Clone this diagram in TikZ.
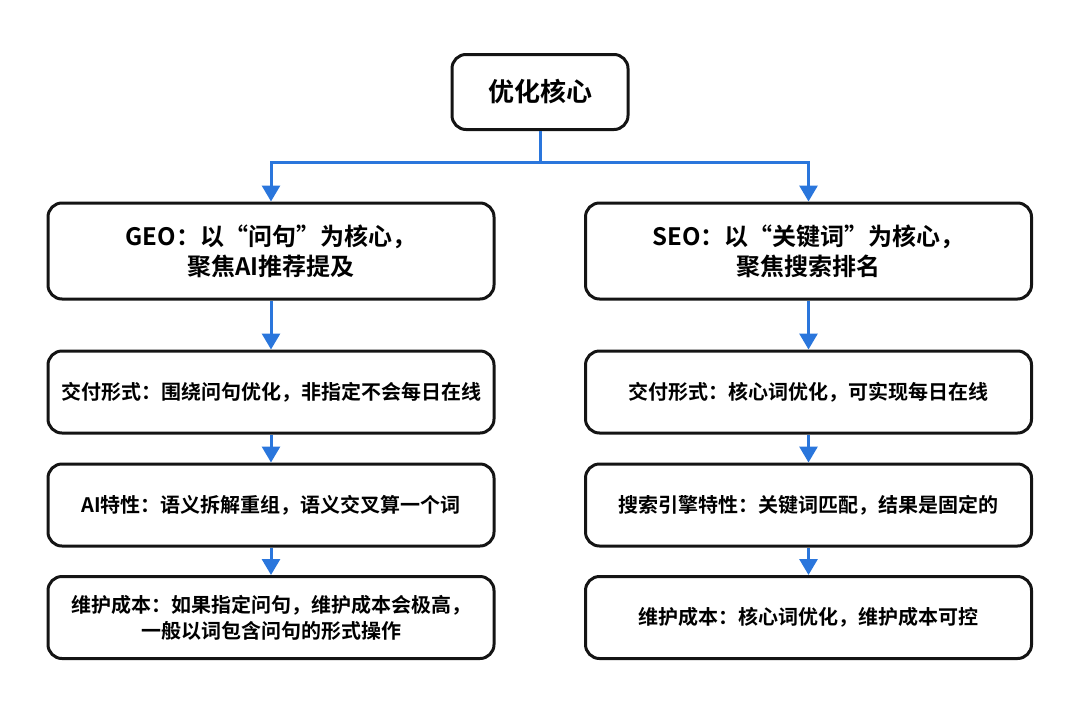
\documentclass[tikz,border=0pt]{standalone}
\usepackage{fontspec}
\setmainfont{Noto Sans CJK SC}[BoldFont={Noto Sans CJK SC Bold}]
\usetikzlibrary{arrows.meta}
\definecolor{linkblue}{RGB}{42,118,220}

\begin{document}
\begin{tikzpicture}[x=0.5pt,y=0.5pt,
  box/.style={draw=black!92,line width=1.5pt,rounded corners=7pt,fill=white,
    align=center,inner sep=0pt},
  head/.style={box,minimum width=223pt,minimum height=48pt,
    font=\bfseries\fontsize{12}{15}\selectfont},
  item/.style={box,minimum width=223pt,minimum height=41pt,
    font=\bfseries\fontsize{10}{13}\selectfont},
  flow/.style={draw=linkblue,line width=1.5pt,-{Triangle[width=9pt,length=8pt]}}]
\useasboundingbox (0,0) rectangle (1080,720);
% Top of the tree
\node[box,minimum width=88pt,minimum height=37.5pt,
  font=\bfseries\fontsize{13}{16}\selectfont] (core) at (540,628) {优化核心};
\coordinate (split) at (540,558);
% Two columns
\node[head] (geo) at (271,469) {GEO：以“问句”为核心，\\聚焦AI推荐提及};
\node[head] (seo) at (808.5,469) {SEO：以“关键词”为核心，\\聚焦搜索排名};
\node[item] (geoform) at (271,328) {交付形式：围绕问句优化，非指定不会每日在线};
\node[item] (seoform) at (808.5,328) {交付形式：核心词优化，可实现每日在线};
\node[item] (geotrait) at (271,215) {AI特性：语义拆解重组，语义交叉算一个词};
\node[item] (seotrait) at (808.5,215) {搜索引擎特性：关键词匹配，结果是固定的};
\node[item] (geocost) at (271,102.5) {维护成本：如果指定问句，维护成本会极高，\\一般以词包含问句的形式操作};
\node[item] (seocost) at (808.5,102.5) {维护成本：核心词优化，维护成本可控};
% Connectors
\draw[draw=linkblue,line width=1.5pt] (core.south) -- (split);
\draw[flow] (split) -| (geo.north);
\draw[flow] (split) -| (seo.north);
\draw[flow] (geo.south) -- (geoform.north);
\draw[flow] (geoform.south) -- (geotrait.north);
\draw[flow] (geotrait.south) -- (geocost.north);
\draw[flow] (seo.south) -- (seoform.north);
\draw[flow] (seoform.south) -- (seotrait.north);
\draw[flow] (seotrait.south) -- (seocost.north);
\end{tikzpicture}
\end{document}
